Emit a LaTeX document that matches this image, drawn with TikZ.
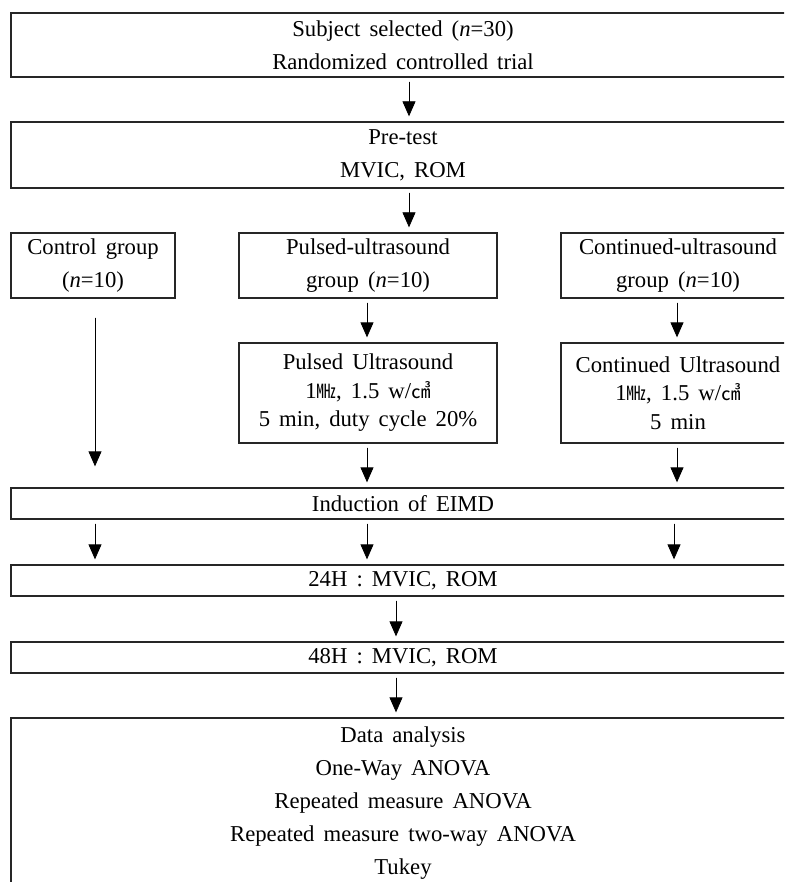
\documentclass[tikz,border=0pt]{standalone}
\usepackage{fontspec}
\setmainfont{Liberation Serif}[WordSpace=1.6]
\newfontfamily\cjk{Noto Sans CJK KR}
\usetikzlibrary{arrows.meta}
\newcommand{\fsA}{\fontsize{22.7}{33}\selectfont}
\newcommand{\fsB}{\fontsize{22.7}{28.5}\selectfont}
\newcommand{\unitsym}[1]{{\cjk\fontsize{19.5}{19.5}\selectfont #1}}
\begin{document}
\begin{tikzpicture}[x=1pt,y=-1pt,
  box/.style={draw=black!85, line width=1.3pt, align=center, inner sep=0pt, font=\fsA},
  boxB/.style={box, font=\fsB},
  arr/.style={-{Triangle[width=13pt,length=15pt]}, line width=0.8pt, draw=black, fill=black, shorten <=4pt, shorten >=5pt}]
\useasboundingbox (0,0) rectangle (784,882);
\clip (0,0) rectangle (784,882);
% boxes
\node[box, minimum width=784pt, minimum height=64pt] (b1) at (403,45)
  {Subject selected (\textit{n}=30)\\Randomized controlled trial};
\node[box, minimum width=784pt, minimum height=66pt] (b2) at (403,155)
  {Pre-test\\MVIC, ROM};
\node[box, minimum width=164pt, minimum height=65pt] (ctl) at (93,265.5)
  {Control group\\(\textit{n}=10)};
\node[box, minimum width=258pt, minimum height=65pt] (pg) at (368,265.5)
  {Pulsed-ultrasound\\group (\textit{n}=10)};
\node[box, minimum width=234pt, minimum height=65pt] (cg) at (678,265.5)
  {Continued-ultrasound\\group (\textit{n}=10)};
\node[boxB, minimum width=258pt, minimum height=100pt] (pu) at (368,393)
  {Pulsed Ultrasound\\1\unitsym{㎒}, 1.5 w/\unitsym{㎤}\\5 min, duty cycle 20\%};
\node[boxB, minimum width=234pt, minimum height=100pt] (cu) at (678,393)
  {Continued Ultrasound\\1\unitsym{㎒}, 1.5 w/\unitsym{㎤}\\5 min};
\node[box, minimum width=784pt, minimum height=31pt] (ind) at (403,503.5)
  {Induction of EIMD};
\node[box, minimum width=784pt, minimum height=31pt] (h24) at (403,580.5)
  {24H : MVIC, ROM};
\node[box, minimum width=784pt, minimum height=31pt] (h48) at (403,657.5)
  {48H : MVIC, ROM};
\node[box, minimum width=784pt, minimum height=171pt] (da) at (403,803.5)
  {Data analysis\\One-Way ANOVA\\Repeated measure ANOVA\\Repeated measure two-way ANOVA\\Tukey};
% arrow columns
\coordinate (xa) at (409,0);
\coordinate (xc) at (95,0);
\coordinate (xp) at (367,0);
\coordinate (xq) at (677,0);
\coordinate (xe) at (674,0);
\coordinate (xd) at (396,0);
% connectors
\draw[arr] (b1.south -| xa) -- (b2.north -| xa);
\draw[arr] (b2.south -| xa) -- (pg.north -| xa);
\draw[arr] (pg.south -| xp) -- (pu.north -| xp);
\draw[arr] (cg.south -| xq) -- (cu.north -| xq);
\draw[arr, shorten <=19pt, shorten >=21pt] (ctl.south -| xc) -- (ind.north -| xc);
\draw[arr] (pu.south -| xp) -- (ind.north -| xp);
\draw[arr] (cu.south -| xq) -- (ind.north -| xq);
\draw[arr] (ind.south -| xc) -- (h24.north -| xc);
\draw[arr] (ind.south -| xp) -- (h24.north -| xp);
\draw[arr] (ind.south -| xe) -- (h24.north -| xe);
\draw[arr] (h24.south -| xd) -- (h48.north -| xd);
\draw[arr] (h48.south -| xd) -- (da.north -| xd);
\end{tikzpicture}
\end{document}
